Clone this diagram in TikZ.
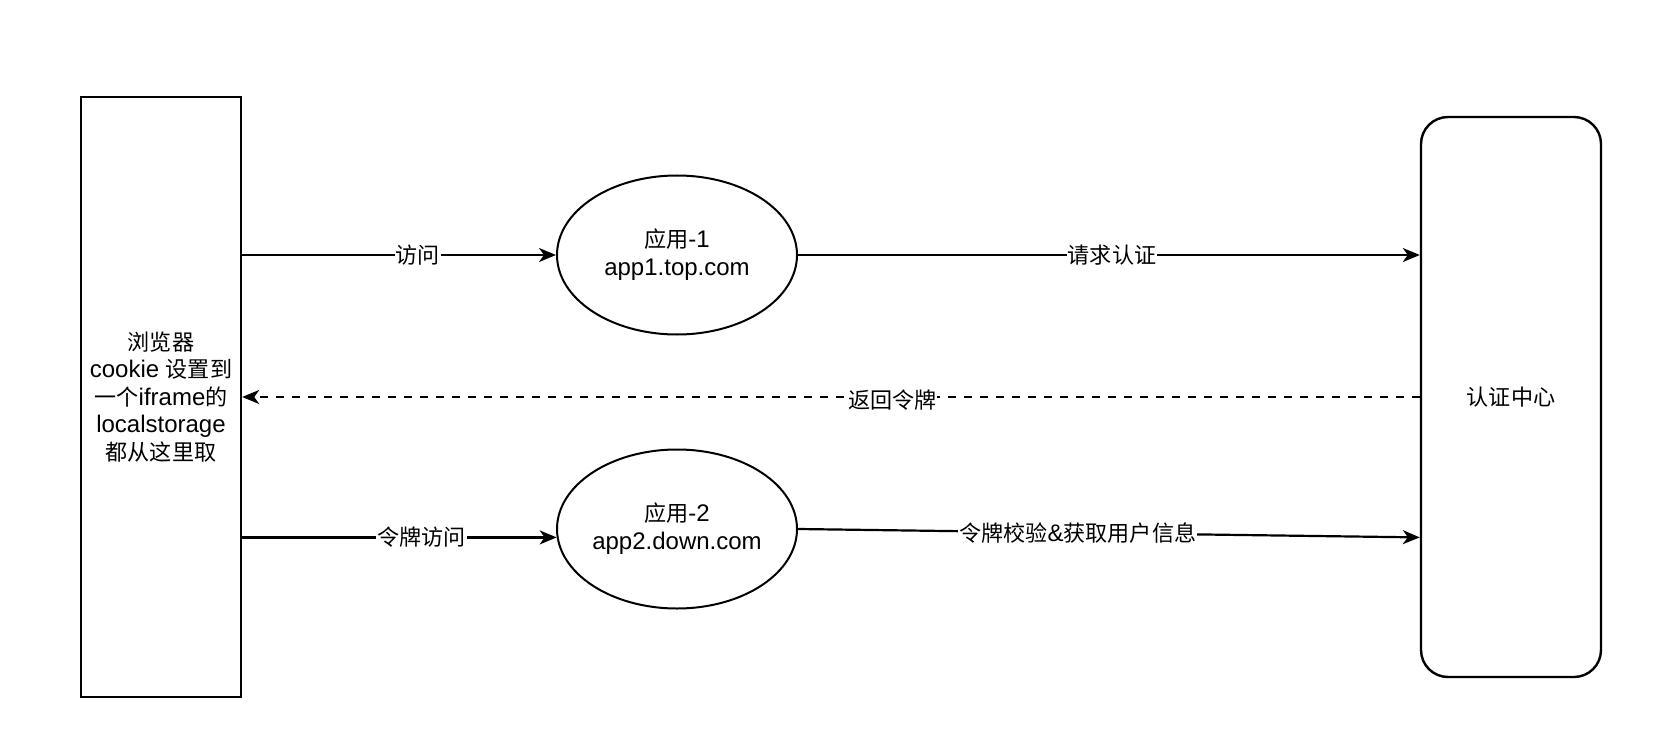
\documentclass[tikz,border=0pt]{standalone}
\usepackage{fontspec}
\setmainfont{Liberation Sans}
\newfontfamily\cjkfont[Scale=0.92]{Noto Sans CJK SC}
\newcommand\zhs[1]{{\cjkfont #1}}
\usetikzlibrary{arrows.meta,shapes.geometric}
\begin{document}
\begin{tikzpicture}[x=1pt,y=-1pt,
  every node/.style={font=\fontsize{24}{27.5}\selectfont},
  box/.style={draw,line width=2.4pt,rectangle,align=center,inner sep=0pt},
  app/.style={draw,line width=2pt,ellipse,align=center,inner sep=0pt,
    minimum width=240pt,minimum height=159pt,font=\fontsize{24}{28}\selectfont},
  flow/.style={line width=2.2pt,-{Stealth[length=17pt,width=14pt,inset=5pt]}},
  tag/.style={fill=white,inner sep=1pt}]
\useasboundingbox (0,0) rectangle (1654,738);

% browser, two applications and the auth centre
\node[box,minimum width=160pt,minimum height=600pt] (browser) at (161,397)
  {\zhs{浏览器}\\cookie \zhs{设置到}\\\zhs{一个}iframe\zhs{的}\\localstorage\\\zhs{都从这里取}};
\node[app] (app1) at (677,255) {\zhs{应用}-1\\app1.top.com};
\node[app] (app2) at (677,529) {\zhs{应用}-2\\app2.down.com};
\node[box,rounded corners=27pt,minimum width=180pt,minimum height=560pt] (auth) at (1511,397)
  {\zhs{认证中心}};

% connectors
\draw[flow] (browser.east |- app1.west) -- node[tag,pos=0.56]{\zhs{访问}} (app1.west);
\draw[flow] (app1.east) -- node[tag,pos=0.505]{\zhs{请求认证}} (auth.west |- app1.east);
\draw[flow,dash pattern=on 8pt off 8pt] (auth.west) -- node[tag,pos=0.448,yshift=-3pt]{\zhs{返回令牌}} (browser.east |- auth.west);
\draw[flow] (browser.east |- app2.184) -- node[tag,pos=0.57]{\zhs{令牌访问}} (app2.184);
\draw[flow] (app2.east) -- node[tag,pos=0.45]{\zhs{令牌校验}\&\zhs{获取用户信息}} (auth.west |- app2.184);
\end{tikzpicture}
\end{document}
